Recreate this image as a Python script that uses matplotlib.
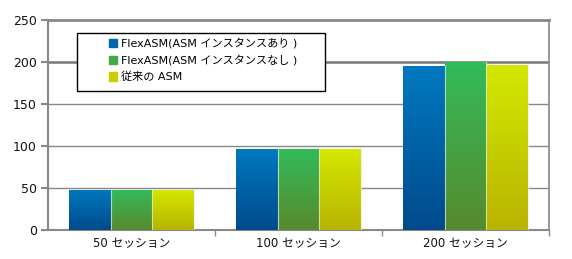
import numpy as np
import matplotlib
matplotlib.use("Agg")
import matplotlib.pyplot as plt
from matplotlib.colors import LinearSegmentedColormap
from matplotlib.patches import Rectangle

plt.rcParams['font.family'] = ['DejaVu Sans', 'Noto Sans CJK JP']

categories = ["50 セッション", "100 セッション", "200 セッション"]
series_names = ["FlexASM(ASM インスタンスあり )", "FlexASM(ASM インスタンスなし )", "従来の ASM"]
flex_with = [48, 96, 195]
flex_without = [48, 97, 200]
legacy = [48, 96, 196]
series = [flex_with, flex_without, legacy]

# top colour, bottom colour
grads = [("#0079bf", "#004a8c"), ("#33bb5a", "#578a2e"), ("#d4e800", "#b8b400")]
legend_colors = ["#0066aa", "#44aa44", "#cccc00"]

W, H = 572, 259
fig = plt.figure(figsize=(W / 100, H / 100), dpi=100)
ax = fig.add_axes([48 / W, 1 - 230 / H, 501 / W, 210 / H])

x = np.arange(len(categories))
group_w = 0.75
bw = group_w / 3
for i, vals in enumerate(series):
    cmap = LinearSegmentedColormap.from_list(f"g{i}", [grads[i][1], grads[i][0]])
    offs = x - group_w / 2 + bw * i + bw / 2
    bars = ax.bar(offs, vals, bw, color="none", edgecolor="none", zorder=3)
    for b in bars:
        x0, y0 = b.get_x(), b.get_y()
        w, h = b.get_width(), b.get_height()
        grad = np.linspace(0, 1, 256).reshape(-1, 1)
        im = ax.imshow(grad, cmap=cmap, origin="lower", aspect="auto",
                       extent=(x0, x0 + w, y0, y0 + h), zorder=3)
        clip = Rectangle((x0, y0), w, h, transform=ax.transData)
        im.set_clip_path(clip)
        ax.plot([x0 + w, x0 + w], [0, h], color="#e8f0e0", lw=0.8, alpha=0.7, zorder=4)

ax.set_xlim(-0.5, 2.5)
ax.set_ylim(0, 250)
ax.set_yticks([0, 50, 100, 150, 200, 250])
ax.set_xticks(x)
ax.set_xticklabels(categories, fontsize=8.5, color="#111111")
ax.tick_params(axis="x", length=0, pad=5)
ax.set_xticks([0.5, 1.5, 2.5], minor=True)
ax.tick_params(axis="x", which="minor", length=4, color="#888888", width=1)
ax.tick_params(axis="y", length=5, color="#888888", width=1.5, labelsize=9, pad=3,
               labelcolor="#111111")

for yv in [50, 100, 150]:
    ax.axhline(yv, color="#888888", lw=1, zorder=1)
ax.axhline(200, color="#777777", lw=1.8, zorder=1)

for s in ["left", "bottom", "right"]:
    ax.spines[s].set_color("#888888")
    ax.spines[s].set_linewidth(1.5)
ax.spines["top"].set_color("#888888")
ax.spines["top"].set_linewidth(2)
ax.spines["right"].set_linewidth(1.2)

# legend box drawn by hand, entries placed inside it
box = Rectangle((77 / W, 1 - 91 / H), (325 - 77) / W, (91 - 33) / H,
                transform=fig.transFigure, facecolor="white", edgecolor="black",
                lw=1, zorder=5)
fig.patches.append(box)
handles = [Rectangle((0, 0), 1, 1, color=c) for c in legend_colors]
leg = fig.legend(handles, series_names, loc="upper left",
                 bbox_to_anchor=(109 / W, 1 - 38 / H),
                 fontsize=8, frameon=False, borderaxespad=0, borderpad=0,
                 handlelength=0.75, handleheight=0.75, handletextpad=0.35,
                 labelspacing=0.55)
leg.set_zorder(6)

fig.savefig("out.png", dpi=100)
